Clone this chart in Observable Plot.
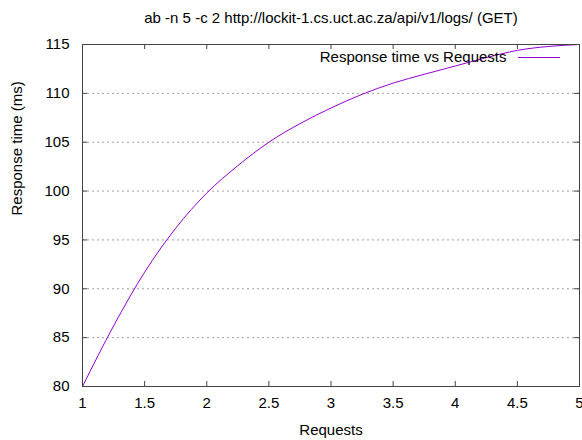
<!DOCTYPE html>
<html>
<head>
<meta charset="utf-8">
<script src="https://cdn.jsdelivr.net/npm/d3@7"></script>
<script src="https://cdn.jsdelivr.net/npm/@observablehq/plot@0.6"></script>
<style>
  html, body { margin: 0; padding: 0; background: #fff; }
</style>
</head>
<body>
<div id="chart"></div>
<script>
const titleText = "ab -n 5 -c 2 http://lockit-1.cs.uct.ac.za/api/v1/logs/ (GET)";
const xLabel = "Requests";
const yLabel = "Response time (ms)";
const seriesName = "Response time vs Requests";

// Values
const requests = [1, 1.25, 1.5, 1.75, 2, 2.25, 2.5, 2.75, 3, 3.25, 3.5, 3.75, 4, 4.25, 4.5, 4.75, 5];
const responseMs = [80, 86.2, 91.7, 96.2, 99.8, 102.6, 105, 106.9, 108.5, 109.9, 111.05, 111.95, 112.8, 113.65, 114.4, 114.8, 115];

const xTicks = [1, 1.5, 2, 2.5, 3, 3.5, 4, 4.5, 5];
const yTicks = [80, 85, 90, 95, 100, 105, 110, 115];
const xDomain = [1, 5];
const yDomain = [80, 115];

const data = requests.map((r, i) => ({r, ms: responseMs[i]}));

const W = 582, H = 440;
const mL = 82, mR = 3, mT = 44, mB = 54;
const pw = W - mL - mR, ph = H - mT - mB;
const tick = 5;
const lineColor = "#9400d3";
const axisColor = "#444";

const chart = Plot.plot({
  width: W, height: H,
  marginLeft: mL, marginRight: mR, marginTop: mT, marginBottom: mB,
  style: {fontFamily: "'Liberation Sans', Arial, sans-serif", fontSize: "15px", color: "#000", background: "#fff", overflow: "visible"},
  x: {domain: xDomain},
  y: {domain: yDomain},
  marks: [
    Plot.gridY(yTicks.filter(v => v > yDomain[0] && v < yDomain[1]), {stroke: "#a0a0a0", strokeOpacity: 1, strokeDasharray: "2,3"}),
    // inward ticks
    Plot.tickX(xTicks, {x: d => d, insetTop: ph - tick, stroke: axisColor}),
    Plot.tickX(xTicks, {x: d => d, insetBottom: ph - tick, stroke: axisColor}),
    Plot.tickY(yTicks, {y: d => d, insetRight: pw - tick, stroke: axisColor}),
    Plot.tickY(yTicks, {y: d => d, insetLeft: pw - tick, stroke: axisColor}),
    Plot.axisX(xTicks, {anchor: "bottom", tickSize: 0, tickPadding: 11, label: null, tickFormat: d => String(d), fontSize: 15}),
    Plot.axisY(yTicks, {anchor: "left", tickSize: 0, tickPadding: 13, label: null, tickFormat: d => String(d), fontSize: 15}),
    Plot.line(data, {x: "r", y: "ms", stroke: lineColor, strokeWidth: 1, curve: "monotone-x"}),
    Plot.frame({stroke: axisColor, strokeWidth: 1}),
    // legend
    Plot.text([seriesName], {frameAnchor: "top-right", dx: -73, dy: 13, textAnchor: "end", lineAnchor: "middle", fontSize: 15}),
    Plot.ruleY([yDomain[1]], {dy: 13, insetLeft: 436, insetRight: 19, stroke: lineColor, strokeWidth: 1}),
    // title and axis labels
    Plot.text([titleText], {frameAnchor: "top", dy: -26, lineAnchor: "middle", fontSize: 15}),
    Plot.text([xLabel], {frameAnchor: "bottom", dy: 44, lineAnchor: "middle", fontSize: 15}),
    Plot.text([yLabel], {frameAnchor: "left", dx: -65, rotate: -90, lineAnchor: "middle", fontSize: 15})
  ]
});
document.getElementById("chart").appendChild(chart);
</script>
</body>
</html>
